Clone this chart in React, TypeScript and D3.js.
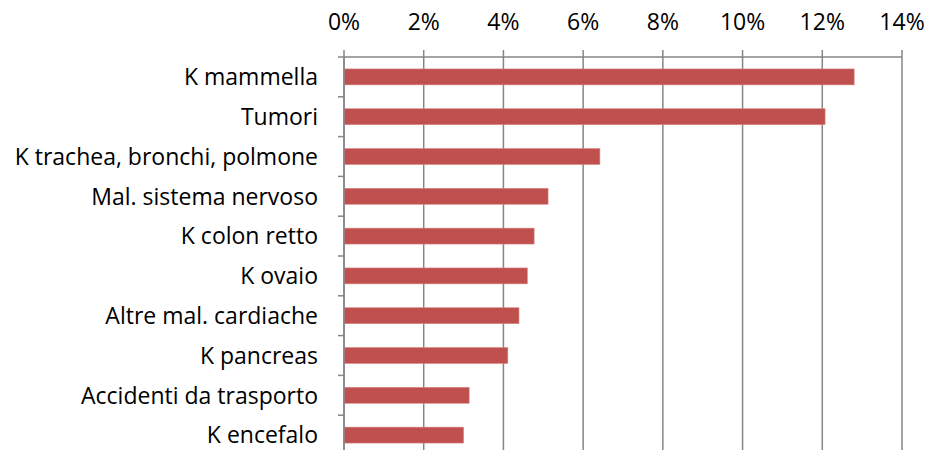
import { useEffect, useRef } from "react";
import * as d3 from "d3";

const categories = [
  "K mammella",
  "Tumori",
  "K trachea, bronchi, polmone",
  "Mal. sistema nervoso",
  "K colon retto",
  "K ovaio",
  "Altre mal. cardiache",
  "K pancreas",
  "Accidenti da trasporto",
  "K encefalo",
];
const values = [12.8, 12.07, 6.42, 5.12, 4.77, 4.6, 4.39, 4.11, 3.14, 3.0];
const xTicks = [0, 2, 4, 6, 8, 10, 12, 14];

const W = 930;
const H = 450;

const App = () => {
  const ref = useRef<SVGSVGElement>(null);

  useEffect(() => {
    const svg = d3.select(ref.current);
    svg.selectAll("*").remove();

    const left = 344;
    const right = 902;
    const top = 57;
    const bottom = 455;

    const x = d3.scaleLinear().domain([0, 14]).range([left, right]);
    const y = d3.scaleBand().domain(categories).range([top, bottom]).paddingInner(0.6).paddingOuter(0.3);
    const band = (bottom - top) / categories.length;

    const font = "'Open Sans', sans-serif";
    const grid = "#868686";

    // vertical gridlines + top ticks
    svg
      .append("g")
      .selectAll("line")
      .data(xTicks)
      .join("line")
      .attr("x1", (d) => x(d))
      .attr("x2", (d) => x(d))
      .attr("y1", top - 7)
      .attr("y2", bottom)
      .attr("stroke", grid)
      .attr("stroke-width", 1.5);

    // top axis line
    svg
      .append("line")
      .attr("x1", left)
      .attr("x2", right)
      .attr("y1", top)
      .attr("y2", top)
      .attr("stroke", grid)
      .attr("stroke-width", 1.5);

    // left axis ticks
    svg
      .append("g")
      .selectAll("line")
      .data(d3.range(categories.length + 1))
      .join("line")
      .attr("x1", left - 6)
      .attr("x2", left)
      .attr("y1", (i) => top + i * band)
      .attr("y2", (i) => top + i * band)
      .attr("stroke", grid)
      .attr("stroke-width", 1.5);

    // x tick labels
    svg
      .append("g")
      .selectAll("text")
      .data(xTicks)
      .join("text")
      .attr("x", (d) => x(d))
      .attr("y", 30)
      .attr("text-anchor", "middle")
      .attr("font-family", font)
      .attr("font-size", 23)
      .attr("fill", "#000")
      .text((d) => `${d}%`);

    // bars
    svg
      .append("g")
      .selectAll("rect")
      .data(values)
      .join("rect")
      .attr("x", x(0))
      .attr("y", (_, i) => y(categories[i])!)
      .attr("width", (d) => x(d) - x(0))
      .attr("height", y.bandwidth())
      .attr("fill", "#C0504D")
      .attr("stroke", "#D48683")
      .attr("stroke-width", 0.6);

    // left axis line
    svg
      .append("line")
      .attr("x1", left)
      .attr("x2", left)
      .attr("y1", top)
      .attr("y2", bottom)
      .attr("stroke", grid)
      .attr("stroke-width", 1.5);

    // category labels
    svg
      .append("g")
      .selectAll("text")
      .data(categories)
      .join("text")
      .attr("x", 318)
      .attr("y", (d) => y(d)! + y.bandwidth() / 2)
      .attr("dy", "0.36em")
      .attr("text-anchor", "end")
      .attr("font-family", font)
      .attr("font-size", 23)
      .attr("fill", "#000")
      .text((d) => d);
  }, []);

  return (
    <svg
      ref={ref}
      width={W}
      height={H}
      style={{ position: "absolute", left: 0, top: 0, background: "#fff" }}
    />
  );
};

export default App;
